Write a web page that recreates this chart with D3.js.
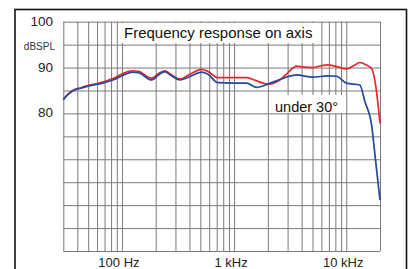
<!DOCTYPE html>
<html>
<head>
<meta charset="utf-8">
<script src="https://cdn.jsdelivr.net/npm/d3@7"></script>
<style>
  body { margin: 0; background: #fff; }
  svg { display: block; font-family: "Liberation Sans", Arial, sans-serif; }
  .grid line { stroke: #7a7a7a; stroke-width: 1; }
  .grid path { display: none; }
</style>
</head>
<body>
<div id="chart"></div>
<script>
// on-axis response (red)
var axisFreq = [30, 33, 37, 43, 49, 64, 83, 102, 125, 140, 184, 215, 242, 270, 329, 400, 514, 580, 717, 1000, 1293, 1588, 2000, 2560, 3000, 3606, 4200, 5040, 6000, 6860, 8200, 10070, 12000, 13220, 15000, 16820, 18380, 20000];
var axisDb   = [83.1, 84.2, 85.1, 85.6, 86.0, 86.7, 87.6, 88.7, 89.3, 89.2, 87.7, 88.8, 89.3, 88.6, 87.5, 88.5, 89.6, 89.2, 87.8, 87.8, 87.8, 87.1, 86.4, 87.3, 88.8, 90.3, 90.1, 90.0, 90.4, 90.6, 90.2, 89.7, 90.6, 91.1, 90.6, 89.8, 85.8, 77.8];

// 30 degree off-axis response (blue)
var offFreq = [30, 33, 37, 43, 49, 64, 83, 102, 125, 140, 184, 215, 242, 270, 329, 400, 514, 580, 717, 1000, 1293, 1588, 2000, 2560, 3000, 3606, 5040, 6860, 8200, 10070, 13220, 14660, 16820, 18380, 20000];
var offDb   = [83.0, 84.1, 85.0, 85.5, 85.9, 86.5, 87.3, 88.3, 89.0, 88.9, 87.3, 88.5, 89.1, 88.4, 87.3, 88.0, 89.0, 88.6, 86.7, 86.6, 86.6, 85.7, 86.4, 87.4, 88.0, 88.4, 87.9, 88.2, 88.1, 86.6, 86.2, 82.6, 77.5, 69.1, 61.1];

var gridFreqs = [30, 40, 50, 60, 70, 80, 90, 100, 200, 300, 400, 500, 600, 700, 800, 900, 1000,
                 2000, 3000, 4000, 5000, 6000, 7000, 8000, 9000, 10000, 20000];
var gridDb = [50, 55, 60, 65, 70, 75, 80, 85, 90, 95, 100];

var xLabelFreqs = [100, 1000, 10000];
var xLabels = ["100 Hz", "1 kHz", "10 kHz"];
var yLabelDb = [100, 90, 80];
var yLabels = ["100", "90", "80"];

var titleText = "Frequency response on axis";
var offLabel = "under 30\u00b0";

var W = 408, H = 269;
var plot = { left: 63.3, right: 380, top: 21.7, bottom: 251 };

var svg = d3.select("#chart").append("svg")
    .attr("width", W)
    .attr("height", H);

var x = d3.scaleLog()
    .domain([30, 20000])
    .range([plot.left, plot.right]);

var y = d3.scaleLinear()
    .domain([50, 100])
    .range([plot.bottom, plot.top]);

// outer frame
svg.append("rect")
    .attr("x", 15).attr("y", 9.5)
    .attr("width", 391.5).attr("height", 275)
    .attr("fill", "none")
    .attr("stroke", "#111")
    .attr("stroke-width", 1.6);

// grid via axes
svg.append("g")
    .attr("class", "grid")
    .attr("transform", "translate(0," + plot.bottom + ")")
    .call(d3.axisBottom(x).tickValues(gridFreqs).tickSize(-(plot.bottom - plot.top)).tickFormat(""));

svg.append("g")
    .attr("class", "grid")
    .attr("transform", "translate(" + plot.left + ",0)")
    .call(d3.axisLeft(y).tickValues(gridDb).tickSize(-(plot.right - plot.left)).tickFormat(""));

var line = d3.line()
    .x(function(d) { return x(d[0]); })
    .y(function(d) { return y(d[1]); })
    .curve(d3.curveMonotoneX);

svg.append("path")
    .datum(d3.zip(axisFreq, axisDb))
    .attr("fill", "none")
    .attr("stroke", "#e8262b")
    .attr("stroke-width", 1.7)
    .attr("d", line);

svg.append("path")
    .datum(d3.zip(offFreq, offDb))
    .attr("fill", "none")
    .attr("stroke", "#23489e")
    .attr("stroke-width", 1.7)
    .attr("d", line);

// title with white backing
svg.append("rect")
    .attr("x", 120).attr("y", 23)
    .attr("width", 196).attr("height", 20)
    .attr("fill", "#fff");
svg.append("text")
    .attr("x", 124).attr("y", 37.5)
    .attr("font-size", 15)
    .attr("fill", "#111")
    .text(titleText);

// off-axis label
svg.append("rect")
    .attr("x", 272).attr("y", 95)
    .attr("width", 71).attr("height", 18)
    .attr("fill", "#fff");
svg.append("text")
    .attr("x", 275).attr("y", 111.5)
    .attr("font-size", 14.5)
    .attr("fill", "#111")
    .text(offLabel);

// y labels
svg.selectAll("text.ylab")
    .data(yLabelDb)
    .enter().append("text")
    .attr("class", "ylab")
    .attr("x", 53)
    .attr("y", function(d) { return y(d) + 4; })
    .attr("text-anchor", "end")
    .attr("font-size", 13.5)
    .attr("fill", "#222")
    .text(function(d, i) { return yLabels[i]; });

svg.append("text")
    .attr("x", 55).attr("y", y(95) + 5)
    .attr("text-anchor", "end")
    .attr("font-size", 10)
    .attr("fill", "#333")
    .text("dBSPL");

// x labels
svg.selectAll("text.xlab")
    .data(xLabelFreqs)
    .enter().append("text")
    .attr("class", "xlab")
    .attr("x", function(d) { return x(d) - 3; })
    .attr("y", 266.5)
    .attr("text-anchor", "middle")
    .attr("font-size", 13)
    .attr("fill", "#222")
    .text(function(d, i) { return xLabels[i]; });
</script>
</body>
</html>
